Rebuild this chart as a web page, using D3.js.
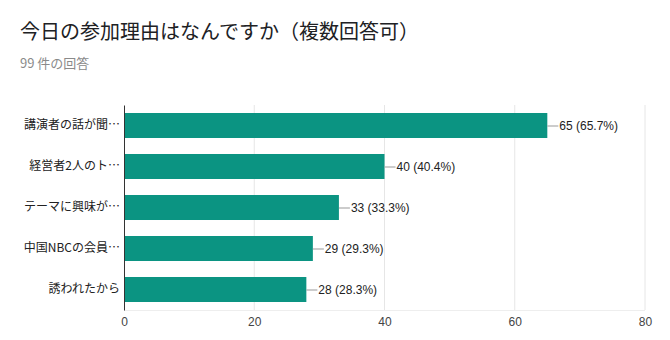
<!DOCTYPE html>
<html>
<head>
<meta charset="utf-8">
<script src="https://cdn.jsdelivr.net/npm/d3@7"></script>
<style>
  html, body { margin: 0; padding: 0; background: #fff; }
  svg { display: block; font-family: "Noto Sans CJK JP", "Noto Sans", sans-serif; }
</style>
</head>
<body>
<svg id="chart" width="670" height="340"></svg>
<script>
// Survey responses: reasons for attending (multiple answers allowed)
const categories = ["講演者の話が聞…", "経営者2人のト…", "テーマに興味が…", "中国NBCの会員…", "誘われたから"];
const counts = [65, 40, 33, 29, 28];
const percents = ["65.7%", "40.4%", "33.3%", "29.3%", "28.3%"];
const xTicks = [0, 20, 40, 60, 80];
const title = "今日の参加理由はなんですか（複数回答可）";
const subtitle = "99 件の回答";

const svg = d3.select("#chart");
const margin = { left: 124, right: 25, top: 105, bottom: 30 };
const W = 670, H = 340;
const latin = "'Liberation Sans', 'Noto Sans CJK JP', sans-serif";

const x = d3.scaleLinear().domain([0, 80]).range([margin.left, W - margin.right]);
const y = d3.scaleBand().domain(categories).range([margin.top, H - margin.bottom]).paddingInner(0.39).paddingOuter(0.195);

// Title and response count
svg.append("text").attr("x", 20).attr("y", 39)
  .attr("font-size", 20).attr("fill", "#202124").text(title);
svg.append("text").attr("x", 20).attr("y", 68)
  .attr("font-size", 13).attr("fill", "#8a8a8a").text(subtitle);

// Vertical gridlines
svg.append("g").selectAll("line").data(xTicks.slice(1)).join("line")
  .attr("x1", d => x(d)).attr("x2", d => x(d))
  .attr("y1", margin.top).attr("y2", H - margin.bottom)
  .attr("stroke", "#e6e6e6").attr("stroke-width", 1);
svg.append("line")
  .attr("x1", margin.left).attr("x2", x(80))
  .attr("y1", H - margin.bottom + 0.5).attr("y2", H - margin.bottom + 0.5)
  .attr("stroke", "#eeeeee");

// Bars
const data = categories.map((c, i) => ({ c, v: counts[i], p: percents[i] }));
svg.append("g").selectAll("rect").data(data).join("rect")
  .attr("x", x(0)).attr("y", d => y(d.c))
  .attr("width", d => x(d.v) - x(0)).attr("height", y.bandwidth())
  .attr("fill", "#0b9482");

// Value labels with leader lines
const lab = svg.append("g").selectAll("g").data(data).join("g")
  .attr("transform", d => `translate(${x(d.v)},${y(d.c) + y.bandwidth() / 2})`);
lab.append("line").attr("x1", 0).attr("x2", 11).attr("y1", 0.5).attr("y2", 0.5)
  .attr("stroke", "#999").attr("stroke-width", 1);
lab.append("text").attr("x", 12).attr("dy", "0.35em")
  .attr("font-size", 12).attr("fill", "#222").attr("font-family", latin)
  .text(d => `${d.v} (${d.p})`);

// Category axis
const yAxis = svg.append("g").attr("transform", `translate(${margin.left},0)`)
  .call(d3.axisLeft(y).tickSize(0).tickPadding(4));
yAxis.select(".domain").attr("stroke", "#333");
yAxis.selectAll("text").attr("font-size", 12).attr("fill", "#222")
  .attr("font-family", "'Noto Sans CJK JP', sans-serif");

// Value axis
const xAxis = svg.append("g").attr("transform", `translate(0,${H - margin.bottom})`)
  .call(d3.axisBottom(x).tickValues(xTicks).tickSize(0).tickPadding(7));
xAxis.select(".domain").remove();
xAxis.selectAll("text").attr("font-size", 12).attr("fill", "#444")
  .attr("font-family", latin);
</script>
</body>
</html>
